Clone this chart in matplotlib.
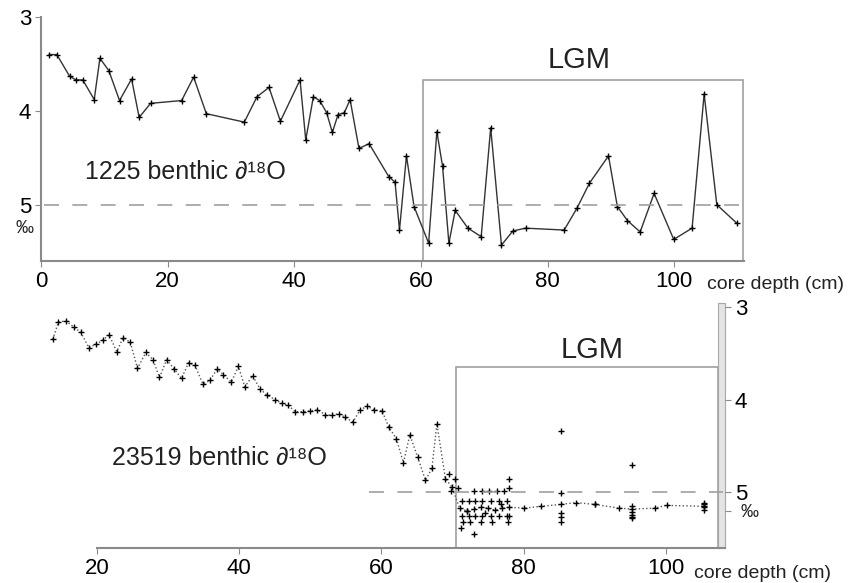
import numpy as np
import matplotlib
matplotlib.use('Agg')
import matplotlib.pyplot as plt
from matplotlib.patches import Rectangle

plt.rcParams['font.family'] = ['Liberation Sans', 'DejaVu Sans']

# site 1225 (top panel)
depth_1225 = [1.3, 2.5, 4.5, 5.5, 6.6, 8.4, 9.3, 10.7, 12.4, 14.3, 15.5, 17.3, 22.2, 24.1,
              26.1, 32.1, 34.1, 36.0, 37.8, 40.9, 41.8, 43.0, 44.0, 45.1, 46.0, 46.9, 47.9,
              48.8, 50.2, 51.8, 54.9, 55.9, 56.6, 57.7, 58.9, 61.2, 62.5, 63.4, 64.4, 65.4,
              67.4, 69.5, 71.0, 72.7, 74.5, 76.5, 82.6, 84.6, 86.6, 89.6, 91.0, 92.6, 94.6,
              96.8, 99.9, 102.8, 104.7, 106.7, 109.9]
d18o_1225 = [3.40, 3.40, 3.63, 3.67, 3.67, 3.88, 3.44, 3.57, 3.89, 3.66, 4.07, 3.92, 3.89, 3.64,
             4.03, 4.12, 3.85, 3.75, 4.11, 3.67, 4.31, 3.85, 3.89, 4.02, 4.23, 4.04, 4.02,
             3.88, 4.40, 4.35, 4.70, 4.76, 5.27, 4.48, 5.02, 5.41, 4.22, 4.59, 5.41, 5.06,
             5.25, 5.34, 4.18, 5.43, 5.28, 5.25, 5.27, 5.04, 4.77, 4.48, 5.02, 5.17, 5.29,
             4.88, 5.37, 5.25, 3.82, 5.00, 5.20]

# core 23519 (bottom panel), main curve
depth_23519 = [13.8, 14.6, 15.7, 16.8, 17.7, 18.9, 19.9, 20.8, 21.7, 22.8, 23.7, 24.7, 25.7,
               26.9, 27.9, 28.8, 29.8, 30.9, 31.9, 32.9, 33.8, 34.9, 35.9, 36.9, 37.8, 38.9,
               39.9, 40.8, 41.9, 42.9, 43.9, 45.1, 46.0, 46.9, 47.9, 49.0, 50.0, 51.0, 52.1,
               53.0, 54.0, 54.9, 56.0, 57.0, 58.0, 59.0, 60.1, 61.0, 62.1, 63.1, 64.0, 65.1,
               66.2, 67.1, 67.8, 69.0, 69.9, 71.0, 72.0, 73.0, 74.0, 75.0, 76.0, 77.0, 78.0,
               80.1, 82.4, 85.2, 87.3, 90.1, 93.4, 95.3, 98.4, 100.1, 105.3]
d18o_23519 = [3.35, 3.16, 3.15, 3.22, 3.27, 3.44, 3.40, 3.36, 3.30, 3.48, 3.33, 3.38, 3.66,
              3.49, 3.57, 3.76, 3.57, 3.67, 3.77, 3.60, 3.63, 3.83, 3.79, 3.67, 3.73, 3.81,
              3.64, 3.86, 3.74, 3.88, 3.95, 4.00, 4.04, 4.06, 4.13, 4.13, 4.12, 4.11, 4.16,
              4.17, 4.15, 4.19, 4.24, 4.11, 4.07, 4.11, 4.12, 4.29, 4.42, 4.68, 4.38, 4.62,
              4.87, 4.74, 4.26, 4.85, 4.94, 5.17, 5.20, 5.18, 5.16, 5.17, 5.19, 5.17, 5.16,
              5.17, 5.15, 5.13, 5.11, 5.13, 5.17, 5.18, 5.17, 5.14, 5.15]

# core 23519 replicate measurements
rep_depth = [69.5, 70.3, 70.8, 69.8,
             73.0, 74.1, 75.1, 76.2, 77.2,
             71.3, 72.3, 73.2, 74.1, 75.4, 76.5, 77.6,
             71.3, 72.3, 73.2, 74.1, 75.4, 76.5, 77.6, 78.0,
             71.5, 72.5, 74.0, 75.5, 77.8,
             78.0, 78.0, 73.0, 71.2, 72.0, 74.6, 76.8,
             85.2, 85.2, 85.2, 85.2, 85.2,
             95.3, 95.3, 95.3, 95.3, 95.3, 95.3,
             105.3, 105.3, 105.3, 105.3, 90.1]
rep_d18o = [4.80, 4.86, 4.95, 4.98,
            4.98, 4.98, 4.98, 4.98, 4.98,
            5.09, 5.09, 5.09, 5.09, 5.09, 5.09, 5.09,
            5.25, 5.25, 5.25, 5.25, 5.25, 5.25, 5.25, 5.25,
            5.32, 5.32, 5.32, 5.32, 5.32,
            4.85, 4.95, 5.45, 5.38, 5.20, 5.22, 5.12,
            4.34, 5.01, 5.22, 5.32, 5.27,
            4.70, 5.21, 5.24, 5.26, 5.28, 5.15,
            5.11, 5.13, 5.19, 5.16, 5.13]

spine_c = '#8a8a8a'
box_c = '#a0a0a0'
fs_tick = 16

fig = plt.figure(figsize=(8.56, 5.83), dpi=100)

# ---- top panel: 1225
ax1 = fig.add_axes([0.0479, 0.5523, 0.8213, 0.4185])
ax1.plot(depth_1225, d18o_1225, color='#333333', lw=1.0, marker='+', ms=5, mec='black', mew=1.0)
ax1.plot([0.4, 112], [5, 5], ls=(0, (9, 8)), color='#a0a0a0', lw=1.2, clip_on=False)
ax1.add_patch(Rectangle((60.3, 3.67), 110.9 - 60.3, 5.6 - 3.67, fill=False, ec=box_c, lw=1.2, clip_on=False))
ax1.text(85, 3.46, 'LGM', fontsize=21, ha='center', va='center', color='#222222')
ax1.text(7, 4.65, '1225 benthic \u2202\u00b9\u2078O', fontsize=18, ha='left', va='center', color='#222222')
ax1.text(-2.6, 5.25, '\u2030', fontsize=13, ha='center', va='center', color='#222222', clip_on=False)
ax1.text(105.2, 5.85, 'core depth (cm)', fontsize=14, ha='left', va='center', color='#222222', clip_on=False)
ax1.set_xlim(0, 111)
ax1.set_ylim(5.6, 3)
ax1.set_xticks([0, 20, 40, 60, 80, 100])
ax1.set_yticks([3, 4, 5])
for s in ['top', 'right']:
    ax1.spines[s].set_visible(False)
for s in ['left', 'bottom']:
    ax1.spines[s].set_color(spine_c)
    ax1.spines[s].set_linewidth(1.5)
ax1.tick_params(direction='out', length=4, color=spine_c, labelsize=fs_tick, pad=3)

# ---- bottom panel: 23519
ax2 = fig.add_axes([0.0467, 0.0600, 0.8002, 0.4197])
ax2.plot(depth_23519, d18o_23519, color='#555555', lw=1.0, ls=':', marker='+', ms=5, mec='black', mew=1.0)
ax2.plot(rep_depth, rep_d18o, ls='none', marker='+', ms=5, mec='black', mew=1.0)
ax2.plot([58.3, 108], [5, 5], ls=(0, (9, 8)), color='#a0a0a0', lw=1.2, clip_on=False)
ax2.add_patch(Rectangle((70.5, 3.65), 107.3 - 70.5, 5.6 - 3.65, fill=False, ec=box_c, lw=1.2, clip_on=False))
ax2.text(89.6, 3.46, 'LGM', fontsize=21, ha='center', va='center', color='#222222')
ax2.text(22.1, 4.63, '23519 benthic \u2202\u00b9\u2078O', fontsize=18, ha='left', va='center', color='#222222')
ax2.text(111.8, 5.22, '\u2030', fontsize=13, ha='center', va='center', color='#222222', clip_on=False)
ax2.text(103.9, 5.88, 'core depth (cm)', fontsize=14, ha='left', va='center', color='#222222', clip_on=False)
ax2.set_xlim(12, 108.3)
ax2.set_ylim(5.6, 2.96)
ax2.set_xticks([20, 40, 60, 80, 100])
ax2.set_yticks([3, 4, 5, 5.2])
ax2.set_yticklabels(['3', '4', '5', ''])
ax2.yaxis.tick_right()
for s in ['top', 'left', 'right']:
    ax2.spines[s].set_visible(False)
ax2.spines['bottom'].set_color(spine_c)
ax2.spines['bottom'].set_linewidth(1.5)
ax2.spines['bottom'].set_bounds(20, 108.3)
# thick grey bar used as the right axis
ax2.add_patch(Rectangle((0.9905, 0), 0.0095, 1, transform=ax2.transAxes, fc='#e4e4e4',
                        ec='#a8a8a8', lw=0.8, clip_on=False))
ax2.tick_params(direction='out', length=4, color=spine_c, labelsize=fs_tick, pad=3)

fig.savefig('out.png', dpi=100)
